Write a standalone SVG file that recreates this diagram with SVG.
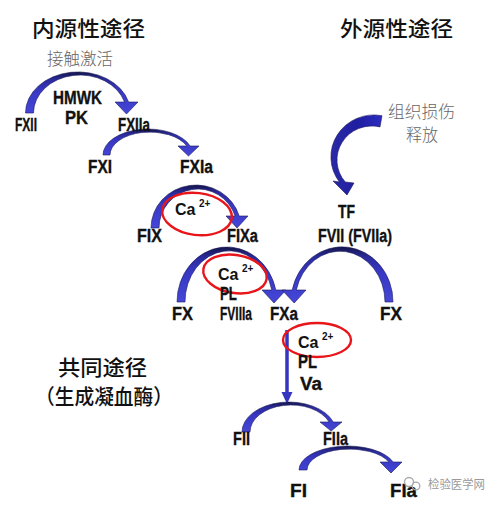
<svg xmlns="http://www.w3.org/2000/svg" width="502" height="506" viewBox="0 0 502 506">
<defs>
<linearGradient id="arcg" x1="0" y1="0" x2="0" y2="1">
<stop offset="0" stop-color="#15154a"/>
<stop offset="0.18" stop-color="#2a2a9c"/>
<stop offset="0.45" stop-color="#3838c4"/>
<stop offset="1" stop-color="#4646d8"/>
</linearGradient>
<linearGradient id="arcg2" x1="0" y1="0" x2="1" y2="0">
<stop offset="0" stop-color="#2a2aa8"/>
<stop offset="0.5" stop-color="#1e1ea0"/>
<stop offset="1" stop-color="#2c2cc0"/>
</linearGradient>
<style>
.arc{fill:url(#arcg);stroke:#1a1a5a;stroke-width:0.6}
.lbl{font-family:"Liberation Sans",Arial,sans-serif;font-weight:bold;font-size:18px;fill:#111;stroke:#111;stroke-width:0.35}
.ca{font-family:"Liberation Sans",Arial,sans-serif;font-weight:bold;font-size:16px;fill:#111}
.sup{font-family:"Liberation Sans",Arial,sans-serif;font-weight:bold;font-size:10px;fill:#111}
.title{font-family:"Noto Sans CJK SC",sans-serif;font-weight:500;font-size:21px;fill:#111}
.note{font-family:"Noto Sans CJK SC",sans-serif;font-weight:300;font-size:17px;fill:#666}
.ring{fill:none;stroke:#e8161b;stroke-width:2.4}
.wm{font-family:"Noto Sans CJK SC",sans-serif;font-size:12px;fill:#9a9a9a}
</style>
</defs>
<rect width="502" height="506" fill="#ffffff"/>

<g id="titles">
<text class="title" x="32" y="36" font-weight="700" textLength="113" lengthAdjust="spacingAndGlyphs">内源性途径</text>
<text class="title" x="340" y="36" font-weight="700" textLength="113" lengthAdjust="spacingAndGlyphs">外源性途径</text>
<text class="note" x="47" y="65" textLength="66" lengthAdjust="spacingAndGlyphs">接触激活</text>
<text class="note" x="388" y="118" textLength="67" lengthAdjust="spacingAndGlyphs">组织损伤</text>
<text class="note" x="406" y="141" textLength="32" lengthAdjust="spacingAndGlyphs">释放</text>
<text class="title" x="58" y="375" textLength="89" lengthAdjust="spacingAndGlyphs">共同途径</text>
<text class="title" x="35" y="404" font-size="20" textLength="138" lengthAdjust="spacingAndGlyphs">（生成凝血酶）</text>
</g>

<g id="connectors">
<path class="arc" d="M 25.5 113 A 52.5 41 0 0 1 128.6 102 L 138 102 L 126.5 114 L 115 102 L 124.5 102 A 46.5 38 0 0 0 33.5 113 Z"/>
<path class="arc" d="M 103 155 A 45 26 0 0 1 190.2 146 L 199 146 L 188.5 156 L 178 146 L 186.8 146 A 40 23 0 0 0 110 155 Z"/>
<path class="arc" d="M 151 228 A 45 43 0 0 1 239.2 216 L 248 216 L 237 228 L 226 216 L 235.1 216 A 39 39 0 0 0 159 228 Z"/>
<path class="arc" d="M 177 302 A 50 55 0 0 1 275.8 290 L 286 290 L 274 303 L 262 290 L 271.8 290 A 44 51 0 0 0 185 302 Z"/>
<path class="arc" d="M 393 302 A 51 55 0 0 0 292.2 290 L 282 290 L 294.2 303 L 306 290 L 296.3 290 A 45 51 0 0 1 385 302 Z"/>
<path class="arc" style="fill:url(#arcg2)" d="M 382 115.7 A 43 42 0 0 0 339.4 182 L 333 181 L 347 195 L 354 183 L 345.3 182 A 35 34 0 0 1 380 126.9 Z"/>
<line x1="287" y1="330" x2="287" y2="394" stroke="#3535c0" stroke-width="3.5"/>
<path d="M 281.5 392 L 292.5 392 L 287 404 Z" fill="#3535c0"/>
<path class="arc" d="M 242 432 A 47 30 0 0 1 333.3 422 L 342 422 L 331.2 431 L 320 422 L 329.1 422 A 41 27 0 0 0 250 432 Z"/>
<path class="arc" d="M 299 470 A 48.5 24 0 0 1 393.2 462 L 402 462 L 391 473 L 380 462 L 388.8 462 A 42.5 21 0 0 0 307 470 Z"/>
</g>

<g id="node-fxii"><text class="lbl" x="15" y="131" textLength="22" lengthAdjust="spacingAndGlyphs">FXII</text></g>
<g id="node-hmwk"><text class="lbl" x="53" y="104" font-size="16" textLength="49" lengthAdjust="spacingAndGlyphs">HMWK</text>
<text class="lbl" x="65" y="124" font-size="16" textLength="23" lengthAdjust="spacingAndGlyphs">PK</text></g>
<g id="node-fxiia"><text class="lbl" x="118" y="131" textLength="32" lengthAdjust="spacingAndGlyphs">FXIIa</text></g>
<g id="node-fxi"><text class="lbl" x="88" y="173" textLength="24" lengthAdjust="spacingAndGlyphs">FXI</text></g>
<g id="node-fxia"><text class="lbl" x="180" y="173" textLength="33" lengthAdjust="spacingAndGlyphs">FXIa</text></g>
<g id="node-fix"><text class="lbl" x="137" y="242" textLength="25" lengthAdjust="spacingAndGlyphs">FIX</text></g>
<g id="node-fixa"><text class="lbl" x="227" y="242" textLength="31" lengthAdjust="spacingAndGlyphs">FIXa</text></g>
<g id="node-ca1">
<text class="ca" x="175" y="215">Ca</text><text class="sup" x="199" y="207">2+</text>
<ellipse class="ring" cx="197" cy="214" rx="35" ry="21" transform="rotate(7 197 214)"/>
</g>
<g id="node-ca2">
<text class="ca" x="218" y="280">Ca</text><text class="sup" x="242" y="272">2+</text>
<ellipse class="ring" cx="235" cy="274" rx="32" ry="19" transform="rotate(9 235 274)"/>
<text class="lbl" x="220" y="300" font-size="16" textLength="17" lengthAdjust="spacingAndGlyphs">PL</text>
<text class="lbl" x="220" y="320" font-size="17" textLength="32" lengthAdjust="spacingAndGlyphs">FVIIIa</text>
</g>
<g id="node-fx-left"><text class="lbl" x="172" y="320" textLength="21" lengthAdjust="spacingAndGlyphs">FX</text></g>
<g id="node-fxa"><text class="lbl" x="270" y="320" textLength="28" lengthAdjust="spacingAndGlyphs">FXa</text></g>
<g id="node-fx-right"><text class="lbl" x="380" y="320" textLength="22" lengthAdjust="spacingAndGlyphs">FX</text></g>
<g id="node-tf">
<text class="lbl" x="338" y="218" font-size="16" textLength="17" lengthAdjust="spacingAndGlyphs">TF</text>
<text class="lbl" x="318" y="242" font-size="16" textLength="74" lengthAdjust="spacingAndGlyphs">FVII (FVIIa)</text>
</g>
<g id="node-ca3">
<text class="ca" x="298" y="348">Ca</text><text class="sup" x="322" y="340">2+</text>
<ellipse class="ring" cx="317" cy="340" rx="34" ry="17"/>
<text class="lbl" x="298" y="368" font-size="16" textLength="19" lengthAdjust="spacingAndGlyphs">PL</text>
<text class="lbl" x="300" y="390" textLength="22" lengthAdjust="spacingAndGlyphs">Va</text>
</g>
<g id="node-fii"><text class="lbl" x="233" y="445" textLength="17" lengthAdjust="spacingAndGlyphs">FII</text></g>
<g id="node-fiia"><text class="lbl" x="323" y="445" textLength="25" lengthAdjust="spacingAndGlyphs">FIIa</text></g>
<g id="node-fi"><text class="lbl" x="290" y="497" font-size="21" textLength="17" lengthAdjust="spacingAndGlyphs">FI</text></g>
<g id="node-fia"><text class="lbl" x="390" y="497" font-size="21" textLength="27" lengthAdjust="spacingAndGlyphs">FIa</text></g>

<g id="watermark">
<circle cx="409" cy="482" r="4.5" fill="none" stroke="#a8a8a8" stroke-width="1.3"/>
<circle cx="416" cy="486" r="3.8" fill="none" stroke="#a8a8a8" stroke-width="1.3"/>
<text class="wm" x="428" y="489" textLength="57" lengthAdjust="spacingAndGlyphs">检验医学网</text>
</g>
</svg>
